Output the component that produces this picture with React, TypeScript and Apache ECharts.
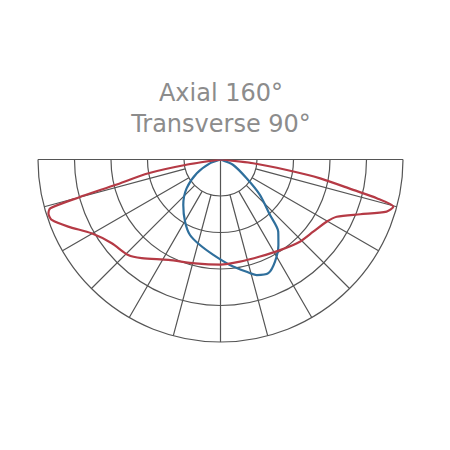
import React, { useEffect, useRef } from 'react';
import * as echarts from 'echarts';

const titleLines = ['Axial 160°', 'Transverse 90°'];
const ringMin = 1;
const ringMax = 5;
const valueMax = 500;

const axialAngles = [-90, -81.2, -79.2, -76.4, -75.0, -74.0, -72.6, -70.3, -66.2, -60.2, -52.4, -44.0, -38.6, -27.4, -13.8, 0, 10.8, 22.1, 33.3, 44.0, 52.1, 59.6, 63.8, 68.6, 72.6, 74.7, 76.1, 77.1, 79.3, 81.0, 83.4, 90];
const axialValues = [0, 98, 201, 297, 404, 485, 494, 491, 456, 407, 376, 364, 346, 310, 293, 288, 285, 287, 297, 313, 322, 337, 355, 411, 477, 491, 441, 373, 278, 184, 90, 0];

const transAngles = [-90, -70.1, -59.9, -49.6, -39.3, -29.7, -22.0, -13.5, -4.3, 5.1, 13.1, 17.4, 22.8, 28.1, 34.1, 38.7, 41.7, 48.1, 54.3, 66.7, 90];
const transValues = [0, 31, 75, 122, 161, 196, 223, 241, 262, 290, 316, 332, 338, 317, 283, 253, 204, 145, 88, 38, 0];

const CX = 220.5;
const CY = 159.5;
const R = 182.5;
const R1 = R / ringMax;
const gridColor = '#555555';

export default function App() {
  const ref = useRef<HTMLDivElement>(null);
  useEffect(() => {
    if (!ref.current) return;
    const chart = echarts.init(ref.current, undefined, { renderer: 'svg' });
    const angleBase = {
      type: 'value',
      min: -90,
      max: 90,
      startAngle: 180,
      endAngle: 360,
      clockwise: false,
      axisLine: { show: false },
      axisTick: { show: false },
      axisLabel: { show: false },
    };
    const gridLine = { show: true, lineStyle: { color: gridColor, width: 1.2 } };
    chart.setOption({
      animation: false,
      backgroundColor: '#ffffff',
      polar: [
        { center: [CX, CY], radius: [0, R] },
        { center: [CX, CY], radius: [R1, R] },
        { center: [CX, CY], radius: [0, R1] },
      ],
      angleAxis: [
        { ...angleBase, polarIndex: 0, splitLine: { show: false } },
        { ...angleBase, polarIndex: 1, interval: 15, splitLine: gridLine },
        { ...angleBase, polarIndex: 2, interval: 90, splitLine: gridLine },
      ],
      radiusAxis: [
        { type: 'value', polarIndex: 0, min: 0, max: valueMax, axisLine: { show: false }, axisTick: { show: false }, axisLabel: { show: false }, splitLine: { show: false } },
        { type: 'value', polarIndex: 1, min: ringMin, max: ringMax, interval: 1, axisLine: { show: false }, axisTick: { show: false }, axisLabel: { show: false }, splitLine: gridLine },
        { type: 'value', polarIndex: 2, min: 0, max: 1, axisLine: { show: false }, axisTick: { show: false }, axisLabel: { show: false }, splitLine: { show: false } },
      ],
      graphic: titleLines.map((t, i) => ({
        type: 'text',
        x: 221,
        y: 92.5 + i * 31,
        style: {
          text: t,
          fill: '#8c8c8c',
          font: '24px "DejaVu Sans"',
          align: 'center',
          verticalAlign: 'middle',
        },
      })),
      series: [
        {
          type: 'line',
          coordinateSystem: 'polar',
          polarIndex: 0,
          showSymbol: false,
          smooth: 0.25,
          lineStyle: { color: '#2f6f9c', width: 2.2 },
          data: transAngles.map((a, i) => [transValues[i], a]),
          z: 3,
        },
        {
          type: 'line',
          coordinateSystem: 'polar',
          polarIndex: 0,
          showSymbol: false,
          smooth: 0.25,
          lineStyle: { color: '#b53a45', width: 2.2 },
          data: axialAngles.map((a, i) => [axialValues[i], a]),
          z: 4,
        },
      ],
    });
    return () => chart.dispose();
  }, []);
  return <div ref={ref} style={{ position: 'fixed', left: 0, top: 0, width: 450, height: 450 }} />;
}
